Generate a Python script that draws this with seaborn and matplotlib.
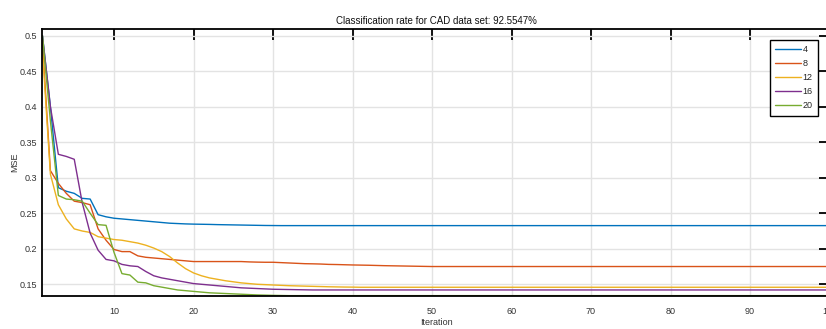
import numpy as np
import pandas as pd
import matplotlib
matplotlib.use("Agg")
import matplotlib.pyplot as plt
import seaborn as sns

N = 100
iterations = list(range(1, N + 1))
series_labels = ["4", "8", "12", "16", "20"]
colors = ["#0072BD", "#D95319", "#EDB120", "#7E2F8E", "#77AC30"]

mse_4_head = [0.500, 0.400, 0.286, 0.281, 0.278, 0.271, 0.270, 0.248, 0.245, 0.243,
              0.242, 0.241, 0.240, 0.239, 0.238, 0.237, 0.236, 0.2355, 0.235, 0.2347,
              0.2345, 0.2343, 0.2340, 0.2338, 0.2336, 0.2334, 0.2332, 0.2330, 0.2328, 0.2327]
mse_4_tail = 0.2326

mse_8_head = [0.490, 0.310, 0.292, 0.278, 0.267, 0.265, 0.262, 0.228, 0.212, 0.199,
              0.196, 0.196, 0.190, 0.188, 0.187, 0.186, 0.185, 0.184, 0.183, 0.182,
              0.182, 0.182, 0.182, 0.182, 0.182, 0.182, 0.1815, 0.1812, 0.181, 0.181,
              0.1805, 0.180, 0.1795, 0.179, 0.1788, 0.1785, 0.178, 0.1778, 0.1775, 0.1772,
              0.177, 0.1768, 0.1765, 0.1762, 0.176, 0.1758, 0.1756, 0.1754, 0.1752, 0.175]
mse_8_tail = 0.175

mse_12_head = [0.480, 0.305, 0.262, 0.242, 0.228, 0.225, 0.223, 0.217, 0.215, 0.213,
               0.212, 0.210, 0.208, 0.205, 0.201, 0.196, 0.189, 0.180, 0.172, 0.166,
               0.162, 0.159, 0.157, 0.155, 0.1535, 0.152, 0.151, 0.150, 0.1495, 0.149,
               0.1485, 0.148, 0.1477, 0.1474, 0.1471, 0.1468, 0.1465, 0.1463, 0.1461, 0.146]
mse_12_tail = 0.1458

mse_16_head = [0.500, 0.400, 0.333, 0.330, 0.326, 0.265, 0.222, 0.198, 0.185, 0.183,
               0.178, 0.176, 0.175, 0.168, 0.162, 0.159, 0.157, 0.155, 0.153, 0.151,
               0.150, 0.149, 0.148, 0.147, 0.146, 0.145, 0.1445, 0.144, 0.1435, 0.143,
               0.1428, 0.1426, 0.1424, 0.1422, 0.142]
mse_16_tail = 0.142

mse_20_head = [0.500, 0.380, 0.275, 0.270, 0.269, 0.267, 0.250, 0.234, 0.233, 0.195,
               0.165, 0.163, 0.153, 0.152, 0.148, 0.146, 0.144, 0.142, 0.141, 0.140,
               0.139, 0.138, 0.1375, 0.137, 0.1365, 0.136, 0.1355, 0.135, 0.1347, 0.1344,
               0.1342, 0.134]
mse_20_tail = 0.134

heads = [mse_4_head, mse_8_head, mse_12_head, mse_16_head, mse_20_head]
tails = [mse_4_tail, mse_8_tail, mse_12_tail, mse_16_tail, mse_20_tail]

x_ticks = list(range(10, 101, 10))
y_ticks = [0.15, 0.2, 0.25, 0.3, 0.35, 0.4, 0.45, 0.5]
y_ticklabels = ["0.15", "0.2", "0.25", "0.3", "0.35", "0.4", "0.45", "0.5"]
title = "Classification rate for CAD data set: 92.5547%"

rows = []
for lab, h, t in zip(series_labels, heads, tails):
    vals = h + [t] * (N - len(h))
    for it, v in zip(iterations, vals):
        rows.append({"Iteration": it, "MSE": v, "Series": lab})
df = pd.DataFrame(rows)

sns.set_style("white")
plt.rcParams["font.family"] = ["Liberation Sans", "DejaVu Sans"]

fig = plt.figure(figsize=(8.26, 3.29), dpi=100)
W, H = 826, 329
left_px, right_px, top_px, bottom_px = 42.45, 829.5, 29.3, 296.0
ax = fig.add_axes([left_px / W, (H - bottom_px) / H,
                   (right_px - left_px) / W, (bottom_px - top_px) / H])

sns.lineplot(data=df, x="Iteration", y="MSE", hue="Series", hue_order=series_labels,
             palette=colors, linewidth=1.0, ax=ax, legend=True)

ax.set_xlim(1, 100)
ax.set_ylim(0.1335, 0.509)
ax.set_xticks(x_ticks)
ax.set_xticklabels([str(v) for v in x_ticks])
ax.set_yticks(y_ticks)
ax.set_yticklabels(y_ticklabels)
ax.grid(True, color="#e3e3e3", linewidth=1.0)
ax.set_axisbelow(True)
for s in ax.spines.values():
    s.set_color("black")
    s.set_linewidth(1.3)
ax.tick_params(direction="in", length=8, width=1.3, top=True, right=True,
               labelsize=6.5, labelcolor="#333333", color="black")
ax.tick_params(axis="x", pad=8)
ax.tick_params(axis="y", pad=4)

ax.set_title(title, fontsize=7, pad=4, color="#111111")
ax.set_xlabel("Iteration", fontsize=6.5, color="#333333")
ax.set_ylabel("MSE", fontsize=6.5, color="#333333")
ax.xaxis.set_label_coords(0.5, (bottom_px - 318) / (bottom_px - top_px))
ax.yaxis.set_label_coords((19 - left_px) / (right_px - left_px), 0.5)

leg_right = (818 - left_px) / (right_px - left_px)
leg_top = (bottom_px - 40) / (bottom_px - top_px)
handles, labels = ax.get_legend_handles_labels()
leg = ax.legend(handles, labels, loc="upper right", bbox_to_anchor=(leg_right, leg_top),
                borderaxespad=0, fontsize=6.5, frameon=True, fancybox=False,
                handlelength=2.9, handletextpad=0.15, borderpad=0.6, labelspacing=0.55)
leg.get_frame().set_edgecolor("black")
leg.get_frame().set_linewidth(1.0)
leg.get_frame().set_alpha(1.0)

fig.savefig("out.png", dpi=100)
